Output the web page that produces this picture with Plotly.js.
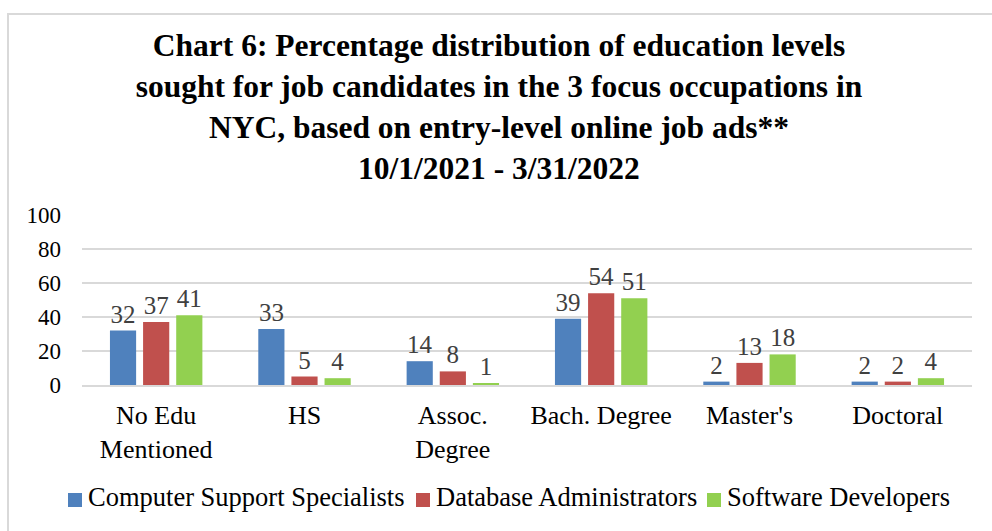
<!DOCTYPE html>
<html>
<head>
<meta charset="utf-8">
<script src="https://cdn.plot.ly/plotly-3.0.1.min.js"></script>
<style>
  html, body { margin: 0; padding: 0; background: #ffffff; }
  #frame { position: absolute; left: 7px; top: 13px; width: 1000px; height: 540px; border: 2px solid #d9d9d9; box-sizing: border-box; }
  #chart { position: absolute; left: 0; top: 0; width: 992px; height: 531px; }
</style>
</head>
<body>
<div id="frame"></div>
<div id="chart"></div>
<script>
const categories = ["No Edu<br>Mentioned", "HS", "Assoc.<br>Degree", "Bach. Degree", "Master's", "Doctoral"];
const computerSupport = [32, 33, 14, 39, 2, 2];
const databaseAdmins = [37, 5, 8, 54, 13, 2];
const softwareDevs = [41, 4, 1, 51, 18, 4];
const seriesNames = ["Computer Support Specialists", "Database Administrators", "Software Developers"];
const yTicks = [0, 20, 40, 60, 80, 100];

const colors = ["#4F81BD", "#C0504D", "#92D050"];
const serif = "Liberation Serif, Times New Roman, serif";

// plot area geometry in pixels (for the hand-placed legend row)
const W = 992, H = 531;
const M = { l: 82, r: 20, t: 215, b: 146 };
const plotW = W - M.l - M.r, plotH = H - M.t - M.b;
const px2x = p => (p - M.l) / plotW;
const py2y = p => (H - M.b - p) / plotH;
const legendSquareLeft = [68, 416, 707];
const legendRowY = 500;
const legendSq = 14;

const allSeries = [computerSupport, databaseAdmins, softwareDevs];
const traces = allSeries.map((vals, i) => ({
  type: "bar",
  name: seriesNames[i],
  x: categories,
  y: vals,
  text: vals.map(String),
  textposition: "outside",
  cliponaxis: false,
  textfont: { family: serif, size: 25, color: "#404040" },
  marker: { color: colors[i] },
  hoverinfo: "x+y+name",
  showlegend: false
}));

const shapes = seriesNames.map((n, i) => ({
  type: "rect",
  xref: "paper", yref: "paper",
  x0: px2x(legendSquareLeft[i]), x1: px2x(legendSquareLeft[i] + legendSq),
  y0: py2y(legendRowY + legendSq / 2), y1: py2y(legendRowY - legendSq / 2),
  fillcolor: colors[i],
  line: { width: 0 }
}));

const annotations = seriesNames.map((n, i) => ({
  text: n,
  xref: "paper", yref: "paper",
  x: px2x(legendSquareLeft[i] + legendSq + 4),
  y: py2y(legendRowY - 3),
  xanchor: "left", yanchor: "middle",
  showarrow: false,
  font: { family: serif, size: 26.5, color: "#000000" }
}));

const layout = {
  width: W,
  height: H,
  paper_bgcolor: "rgba(0,0,0,0)",
  plot_bgcolor: "rgba(0,0,0,0)",
  margin: M,
  title: {
    text: "<b>Chart 6: Percentage distribution of education levels<br>sought for job candidates in the 3 focus occupations in<br>NYC, based on entry-level online job ads**<br>10/1/2021 - 3/31/2022</b>",
    font: { family: serif, size: 31.5, color: "#000000" },
    x: 0.503,
    xref: "container",
    xanchor: "center",
    y: 1 - 56 / 531,
    yref: "container",
    yanchor: "top"
  },
  barmode: "group",
  bargap: 0.33,
  bargroupgap: 0.21,
  showlegend: false,
  shapes: shapes,
  annotations: annotations,
  xaxis: {
    type: "category",
    tickfont: { family: serif, size: 26, color: "#000000" },
    showline: true,
    linecolor: "#d9d9d9",
    linewidth: 2,
    ticks: "",
    showgrid: false,
    ticklabelstandoff: 6,
    fixedrange: true
  },
  yaxis: {
    range: [0, 100],
    tickvals: yTicks,
    ticktext: yTicks.map(String),
    tickfont: { family: serif, size: 23, color: "#000000" },
    showgrid: true,
    gridcolor: "#d9d9d9",
    gridwidth: 2,
    zeroline: false,
    showline: false,
    ticks: "",
    ticklabelstandoff: 20,
    fixedrange: true
  }
};

Plotly.newPlot("chart", traces, layout, { displayModeBar: false, responsive: false });
</script>
</body>
</html>
